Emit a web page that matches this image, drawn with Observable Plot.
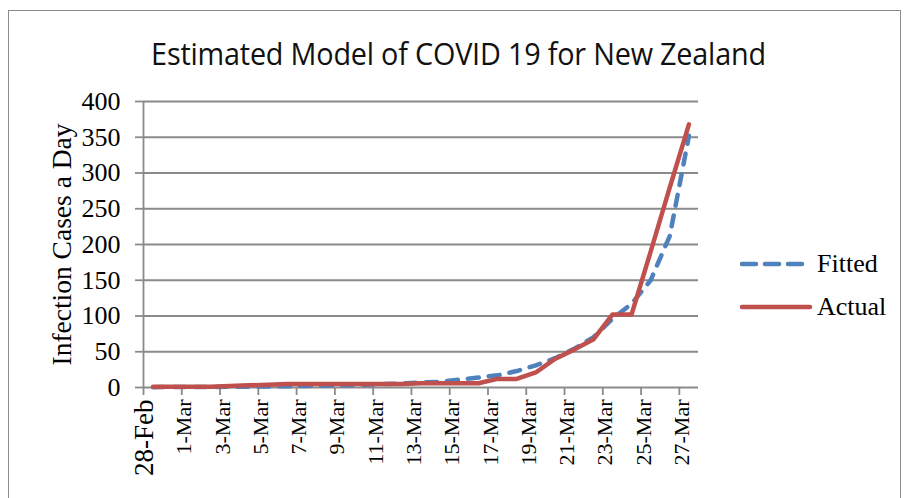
<!DOCTYPE html>
<html>
<head>
<meta charset="utf-8">
<script src="https://cdn.jsdelivr.net/npm/d3@7"></script>
<script src="https://cdn.jsdelivr.net/npm/@observablehq/plot@0.6"></script>
<style>
  html, body { margin: 0; padding: 0; background: #fff; }
  #wrap { position: relative; width: 904px; height: 498px; overflow: hidden; }
  #frame { position: absolute; left: 8px; top: 10px; width: 893px; height: 500px; border: 1.5px solid #8a8a8a; box-sizing: border-box; }
  #title { position: absolute; left: 0; width: 917px; top: 31px; text-align: center;
           font-family: "Open Sans", sans-serif; font-size: 28.8px; color: #111;
           transform: scaleY(1.1); transform-origin: 50% 0; letter-spacing: -0.2px; }
  #chart { position: absolute; left: 0; top: 0; }
  .leg { position: absolute; font-family: "Liberation Serif", "Times New Roman", serif; font-size: 26px; color: #000; line-height: 1; }
  .leg svg { position: absolute; }
</style>
</head>
<body>
<div id="wrap">
  <div id="frame"></div>
  <div id="chart"></div>
  <div id="title"></div>
  <div id="legend"></div>
</div>
<script>
const title = "Estimated Model of COVID 19 for New Zealand";
const yLabel = "Infection Cases a Day";
const dates = ["28-Feb","29-Feb","1-Mar","2-Mar","3-Mar","4-Mar","5-Mar","6-Mar","7-Mar","8-Mar",
  "9-Mar","10-Mar","11-Mar","12-Mar","13-Mar","14-Mar","15-Mar","16-Mar","17-Mar","18-Mar",
  "19-Mar","20-Mar","21-Mar","22-Mar","23-Mar","24-Mar","25-Mar","26-Mar","27-Mar"];
const fitted = [0.5,0.6,0.7,0.8,1,1.2,1.5,1.8,2.2,2.6,3.2,3.9,4.7,5.7,7,8,11,14,17,23,31,41,54,70,96,117,150,212,352];
const actual = [1,1,1,1,2,3,4,5,5,5,5,5,5,5,6,6,6,6,12,12,21,40,53,67,102,102,190,280,368];
const yTicks = [0,50,100,150,200,250,300,350,400];
const seriesNames = ["Fitted","Actual"];
const colors = {Fitted: "#4F81BD", Actual: "#C0504D"};

const rows = [];
dates.forEach((d, i) => {
  rows.push({i, date: d, series: "Fitted", value: fitted[i]});
  rows.push({i, date: d, series: "Actual", value: actual[i]});
});
const labelRows = dates.map((d, i) => ({i, date: d})).filter(d => d.i % 2 === 0);
const boundaries = d3.range(0, dates.length, 2).map(i => i - 0.5);

const grid = "#8a8a8a";
const serif = "Liberation Serif, Times New Roman, serif";

const plot = Plot.plot({
  width: 904,
  height: 498,
  marginLeft: 143,
  marginRight: 206,
  marginTop: 101,
  marginBottom: 111,
  style: {fontFamily: serif, background: "transparent", overflow: "visible"},
  x: {domain: [-0.5, dates.length - 0.5], axis: null},
  y: {domain: [0, 400], axis: null},
  marks: [
    Plot.ruleY(yTicks.filter(t => t > 0), {y: d => d, stroke: grid, strokeWidth: 1.8}),
    Plot.axisY({ticks: yTicks, tickSize: 8, tickPadding: 15, fontSize: 26, stroke: grid, strokeWidth: 1.8, color: "#000", label: null, tickFormat: d => String(d)}),
    Plot.axisX({ticks: boundaries, tickSize: 8, stroke: grid, strokeWidth: 1.8, tickFormat: () => "", label: null}),
    Plot.ruleX([-0.5], {stroke: grid, strokeWidth: 1.8}),
    Plot.ruleY([0], {stroke: grid, strokeWidth: 1.8}),
    Plot.text(labelRows, {x: "i", frameAnchor: "bottom", dy: 12, text: "date", rotate: -90, textAnchor: "end",
      fontSize: d => d.i === 0 ? 27 : 22, fill: "#000", fontFamily: serif}),
    Plot.text([yLabel], {frameAnchor: "left", dx: -81, rotate: -90, textAnchor: "middle", fontSize: 27.5, fill: "#000", fontFamily: serif}),
    Plot.line(rows.filter(r => r.series === "Fitted"), {x: "i", y: "value", stroke: colors.Fitted, strokeWidth: 4.5,
      strokeDasharray: "11,10", strokeLinecap: "round", strokeLinejoin: "round"}),
    Plot.line(rows.filter(r => r.series === "Actual"), {x: "i", y: "value", stroke: colors.Actual, strokeWidth: 4.5,
      strokeLinecap: "round", strokeLinejoin: "round"})
  ]
});
document.getElementById("chart").appendChild(plot);
document.getElementById("title").textContent = title;

// legend
const legend = document.getElementById("legend");
const legY = {Fitted: 264, Actual: 307};
seriesNames.forEach(name => {
  const item = document.createElement("div");
  item.className = "leg";
  item.style.left = "740px";
  item.style.top = (legY[name] - 14) + "px";
  item.style.width = "150px";
  item.style.height = "30px";
  const dash = name === "Fitted" ? 'stroke-dasharray="14,9"' : "";
  item.innerHTML = `<svg width="80" height="28" style="left:0;top:0"><line x1="2" y1="14" x2="70" y2="14" stroke="${colors[name]}" stroke-width="4.5" stroke-linecap="round" ${dash}/></svg><span style="position:absolute;left:77px;top:1px">${name}</span>`;
  legend.appendChild(item);
});
</script>
</body>
</html>
